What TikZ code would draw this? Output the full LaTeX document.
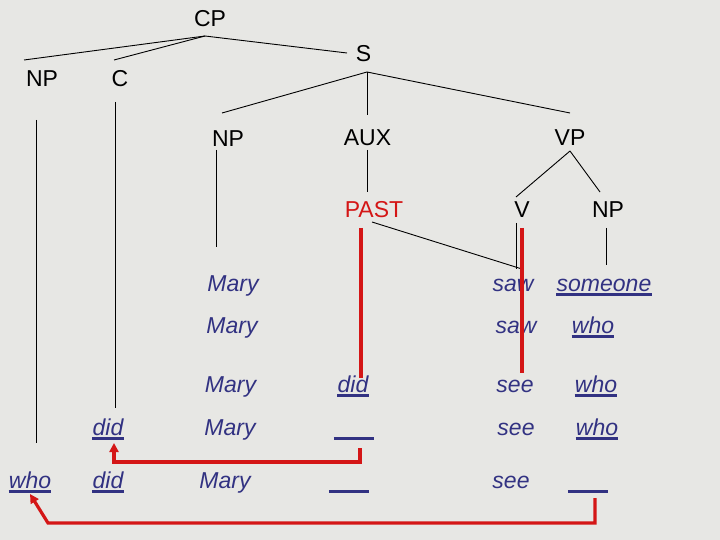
\documentclass[tikz,border=0pt]{standalone}
\usepackage{fontspec}
\setmainfont{Liberation Sans}
\usetikzlibrary{calc,arrows.meta}
\definecolor{bgc}{RGB}{231,231,228}
\definecolor{wordblue}{RGB}{50,50,130}
\definecolor{movered}{RGB}{212,22,22}
\tikzset{
  cat/.style={anchor=base, inner sep=0pt, font=\fontsize{23}{26}\selectfont, text=black},
  pastcat/.style={cat, text=movered},
  word/.style={anchor=base, inner sep=0pt, font=\fontsize{23}{26}\selectfont\itshape, text=wordblue},
  branch/.style={draw=black, line width=0.9pt},
  moveline/.style={draw=movered, line width=3.2pt},
  movearrow/.style={draw=movered, line width=3.2pt, line join=miter, -{Triangle[length=9pt,width=9pt]}},
  uline/.style={draw=wordblue, line width=2.5pt}
}
\newcommand{\ulword}[1]{\draw[uline] ($(#1.base west)+(0,3.5)$) -- ($(#1.base east)+(0,3.5)$);}
\begin{document}
\begin{tikzpicture}[x=1pt,y=-1pt]
\fill[bgc] (0,0) rectangle (720,540);
\useasboundingbox (0,0) rectangle (720,540);

% tree categories
\node[cat] (cp) at (210,27) {CP};
\node[cat] (np1) at (42,87) {NP};
\node[cat] (c) at (120,87) {C};
\node[cat] (s) at (363.5,62) {S};
\node[cat] (np2) at (228,147) {NP};
\node[cat] (aux) at (367.5,146) {AUX};
\node[cat] (vp) at (570,146) {VP};
\node[pastcat] (past) at (374,218) {PAST};
\node[cat] (v) at (522,218) {V};
\node[cat] (np3) at (608,218) {NP};

% row 1
\node[word] (mary1) at (233,291) {Mary};
\node[word] (saw1) at (513,291) {saw};
\node[word] (someone) at (604,291) {someone};
% row 2
\node[word] (mary2) at (232,333) {Mary};
\node[word] (saw2) at (516,333) {saw};
\node[word] (who2) at (593,333) {who};
% row 3
\node[word] (mary3) at (230.5,392) {Mary};
\node[word] (did3) at (353,392) {did};
\node[word] (see3) at (515,392) {see};
\node[word] (who3) at (596,392) {who};
% row 4
\node[word] (did4) at (108,435) {did};
\node[word] (mary4) at (230,435) {Mary};
\node[word] (b4) at (354,435) {\hspace*{40pt}};
\node[word] (see4) at (516,435) {see};
\node[word] (who4) at (597,435) {who};
% row 5
\node[word] (who5) at (30,488) {who};
\node[word] (did5) at (108,488) {did};
\node[word] (mary5) at (225,488) {Mary};
\node[word] (b5a) at (349,488) {\hspace*{40pt}};
\node[word] (see5) at (511,488) {see};
\node[word] (b5b) at (588,488) {\hspace*{40pt}};

% underlines
\ulword{someone}
\ulword{who2}
\ulword{did3}
\ulword{who3}
\ulword{did4}
\ulword{b4}
\ulword{who4}
\ulword{who5}
\ulword{did5}
\ulword{b5a}
\ulword{b5b}

% tree branches
\coordinate (cptop) at ($(cp.base)+(-5,9)$);
\draw[branch] (cptop) -- ($(np1.base)+(-18,-27)$);
\draw[branch] (cptop) -- ($(c.base)+(-6,-27)$);
\draw[branch] (cptop) -- ($(s.base)+(-16.5,-9)$);
\coordinate (stop) at ($(s.base)+(3.5,10)$);
\draw[branch] (stop) -- ($(np2.base)+(-6,-34)$);
\draw[branch] (stop) -- ($(aux.base)+(-0.5,-31)$);
\draw[branch] (stop) -- ($(vp.base)+(0,-33)$);
\draw[branch] ($(np1.base)+(-6,33)$) -- ($(who5.base)+(6,-45)$);
\draw[branch] ($(c.base)+(-5,15)$) -- ($(did4.base)+(7,-27)$);
\draw[branch] ($(np2.base)+(-12,3)$) -- ($(mary1.base)+(-17,-44)$);
\draw[branch] ($(aux.base)+(-0.5,4)$) -- ($(past.base)+(-7,-26)$);
\coordinate (vptop) at ($(vp.base)+(0,5)$);
\draw[branch] (vptop) -- ($(v.base)+(-6,-21)$);
\draw[branch] (vptop) -- ($(np3.base)+(-8,-26)$);
\draw[branch] ($(v.base)+(-6,5)$) -- ($(saw1.base)+(3,-22)$);
\draw[branch] ($(past.base)+(-2,4)$) -- ($(saw1.base)+(9,-22)$);
\draw[branch] ($(np3.base)+(-2,10)$) -- ($(someone.base)+(2,-26)$);

% movement lines
\draw[moveline] ($(past.base)+(-13,10)$) -- ($(did3.base)+(8,-14)$);
\draw[moveline] ($(v.base)+(0,10)$) -- ($(see3.base)+(7,-19)$);
\draw[movearrow] ($(b4.base)+(6,13)$) |- ($(did4.base)+(6,27)$) -- ($(did4.base)+(6,8)$);
\draw[movearrow] ($(b5b.base)+(7,10)$) |- ($(who5.base)+(18,35)$) -- ($(who5.base)+(0,6)$);
\end{tikzpicture}
\end{document}
